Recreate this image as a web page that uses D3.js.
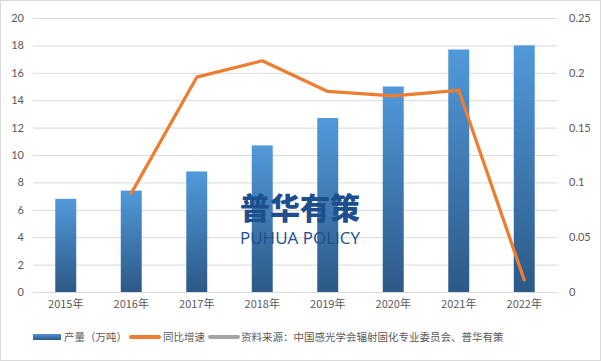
<!DOCTYPE html>
<html><head><meta charset="utf-8">
<script src="https://cdn.jsdelivr.net/npm/d3@7"></script>
<style>
html,body{margin:0;padding:0;background:#fff;}
svg{display:block;}
</style></head>
<body>
<svg id="c" width="601" height="361"></svg>
<script>
const categories = ["2015年","2016年","2017年","2018年","2019年","2020年","2021年","2022年"];
const output = [6.8, 7.4, 8.8, 10.7, 12.7, 15.0, 17.7, 18.0];
const growth = [null, 0.090, 0.196, 0.211, 0.183, 0.179, 0.184, 0.011];
const leftTicks = [0,2,4,6,8,10,12,14,16,18,20];
const rightTicks = [0,0.05,0.1,0.15,0.2,0.25];
const legendLabels = ["产量（万吨）","同比增速","资料来源：中国感光学会辐射固化专业委员会、普华有策"];

const svg = d3.select("#c");
const W = 601, H = 361;
const m = {l:33, r:44, t:18, b:69};
const x = d3.scaleBand().domain(categories).range([m.l, W - m.r]).paddingInner(0.68).paddingOuter(0.34);
const xc = d3.scaleBand().domain(categories).range([m.l, W - m.r]);
const yL = d3.scaleLinear().domain([0,20]).range([H - m.b, m.t]);
const yR = d3.scaleLinear().domain([0,0.25]).range([H - m.b, m.t]);
const font = "'Noto Sans CJK SC', 'Noto Sans', sans-serif";
const numFont = "Lato, 'Open Sans', sans-serif";

svg.append("rect").attr("x",0.5).attr("y",0.5).attr("width",W-1).attr("height",H-1)
  .attr("fill","#fff").attr("stroke","#d9d9d9");

const defs = svg.append("defs");
const g = defs.append("linearGradient").attr("id","barg").attr("x1",0).attr("y1",0).attr("x2",0).attr("y2",1);
g.append("stop").attr("offset","0%").attr("stop-color","#5199da");
g.append("stop").attr("offset","100%").attr("stop-color","#2c5987");
const lg = defs.append("linearGradient").attr("id","legg").attr("x1",0).attr("y1",0).attr("x2",0).attr("y2",1);
lg.append("stop").attr("offset","0%").attr("stop-color","#4f93d2");
lg.append("stop").attr("offset","100%").attr("stop-color","#2c5987");

// gridlines
svg.append("g").attr("class","grid")
  .attr("transform",`translate(${m.l},0)`)
  .call(d3.axisLeft(yL).tickValues(leftTicks).tickSize(-(W-m.l-m.r)).tickFormat(""))
  .call(s=>s.select(".domain").remove())
  .call(s=>s.selectAll("line").attr("stroke","#d9d9d9").attr("stroke-width",1));

// left axis labels
svg.append("g").attr("transform",`translate(${m.l},0)`)
  .call(d3.axisLeft(yL).tickValues(leftTicks).tickSize(0).tickPadding(9))
  .call(s=>s.select(".domain").remove())
  .call(s=>s.selectAll("text").attr("fill","#595959").attr("font-size",11).attr("font-family",numFont));

// right axis labels
svg.append("g").attr("transform",`translate(${W-m.r},0)`)
  .call(d3.axisRight(yR).tickValues(rightTicks).tickSize(0).tickPadding(12).tickFormat(d=>d===0?"0":String(+d.toFixed(2))))
  .call(s=>s.select(".domain").remove())
  .call(s=>s.selectAll("text").attr("fill","#595959").attr("font-size",11).attr("font-family",numFont));

// bars
svg.append("g").selectAll("rect").data(output).join("rect")
  .attr("x",(d,i)=>x(categories[i]))
  .attr("y",d=>yL(d))
  .attr("width",x.bandwidth())
  .attr("height",d=>yL(0)-yL(d))
  .attr("fill","url(#barg)");

// x axis
svg.append("g").attr("transform",`translate(0,${H-m.b})`)
  .call(d3.axisBottom(xc).tickSize(0).tickPadding(8))
  .call(s=>s.select(".domain").attr("stroke","#d9d9d9"))
  .call(s=>s.selectAll("text").attr("fill","#595959").attr("font-size",11).attr("font-family",font));

// line
const line = d3.line().defined(d=>d!=null)
  .x((d,i)=>xc(categories[i])+xc.bandwidth()/2).y(d=>yR(d));
svg.append("path").datum(growth).attr("d",line)
  .attr("fill","none").attr("stroke","#ed7d31").attr("stroke-width",3.25)
  .attr("stroke-linejoin","round").attr("stroke-linecap","round");

// watermark
svg.append("text").attr("x",300).attr("y",219).attr("text-anchor","middle")
  .attr("font-family",font).attr("font-weight",900).attr("font-size",30)
  .attr("fill","#1d4f8e").text("普华有策");
svg.append("text").attr("x",300).attr("y",244).attr("text-anchor","middle")
  .attr("font-family","'Open Sans', 'Noto Sans', sans-serif").attr("font-weight",500).attr("font-size",17)
  .attr("fill","#1d4f8e").text("PUHUA POLICY");

// legend
const ly = 337;
const fs = 10.5;
const leg = svg.append("g");
leg.append("rect").attr("x",33).attr("y",ly-3).attr("width",28).attr("height",6).attr("fill","url(#legg)");
leg.append("text").attr("x",64).attr("y",ly).attr("dy","0.35em").attr("font-size",fs).attr("fill","#595959").attr("font-family",font).text(legendLabels[0]);
leg.append("line").attr("x1",131).attr("x2",159).attr("y1",ly).attr("y2",ly).attr("stroke","#ed7d31").attr("stroke-width",4).attr("stroke-linecap","round");
leg.append("text").attr("x",163).attr("y",ly).attr("dy","0.35em").attr("font-size",fs).attr("fill","#595959").attr("font-family",font).text(legendLabels[1]);
leg.append("line").attr("x1",210).attr("x2",238).attr("y1",ly).attr("y2",ly).attr("stroke","#a5a5a5").attr("stroke-width",4).attr("stroke-linecap","round");
leg.append("text").attr("x",241).attr("y",ly).attr("dy","0.35em").attr("font-size",fs).attr("fill","#595959").attr("font-family",font).text(legendLabels[2]);
</script>
</body></html>
